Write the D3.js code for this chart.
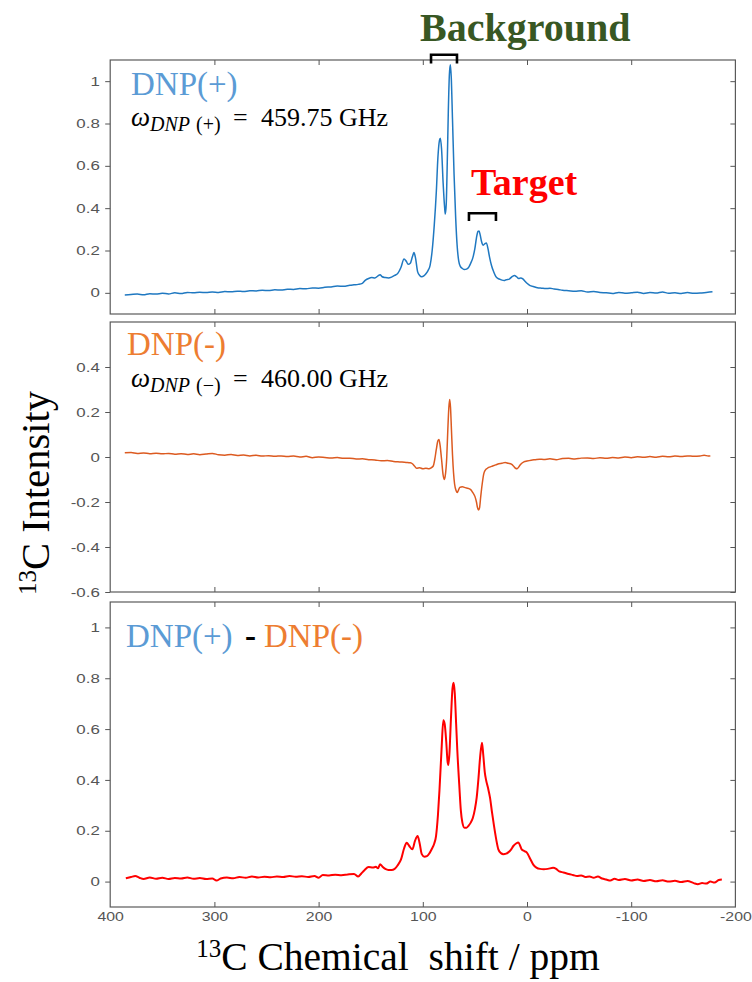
<!DOCTYPE html>
<html>
<head>
<meta charset="utf-8">
<script src="https://cdnjs.cloudflare.com/ajax/libs/d3/7.8.5/d3.min.js"></script>
<style>
  body { margin: 0; background: #fff; }
  .tick text { font-family: "Liberation Sans", Arial, sans-serif; font-size: 13px; fill: #555; }
</style>
</head>
<body>
<svg id="fig" width="752" height="982"></svg>
<script>
// x ticks (ppm) and y ticks per panel
const xTicks = [400, 300, 200, 100, 0, -100, -200];
const yTicksPlus = [0, 0.2, 0.4, 0.6, 0.8, 1];
const yTicksMinus = [-0.6, -0.4, -0.2, 0, 0.2, 0.4];
const yTicksDiff = [0, 0.2, 0.4, 0.6, 0.8, 1];

// DNP(+) spectrum, 459.75 GHz
const ppmPlus = [386,380,374,368,362,356,350,344,338,332,326,320,314,308,302,296,290,284,278,272,266,260,254,248,242,236,230,224,218,212,206,200,194,188,182,176,170,166,162,158,155,152,149,146,143,141,139,136,133,130,127,124,121,118,116,114,112,110,108.5,107,105,103,101,99,97,95,93,91,89,87,85.5,84,83.2,82,80.5,79,78.4,77.5,76.5,75.5,74.5,73.6,72.7,71.5,70,68.5,67,65.5,64,62,60,58,56,54,52,50,48.5,47,46,45,43.5,42,40.5,39,37.5,36,34,32,30,28,26,24,22,20,17,14,12,10,8,6,4,2,0,-3,-6,-10,-14,-18,-22,-26,-30,-34,-40,-46,-52,-58,-64,-70,-76,-82,-88,-94,-100,-106,-112,-118,-124,-130,-136,-142,-148,-154,-160,-166,-172,-178];
const dnpPlus = [-0.010,-0.008,-0.006,-0.009,-0.004,-0.006,-0.002,-0.005,0.000,-0.003,0.002,0.000,0.003,0.001,0.004,0.002,0.006,0.005,0.008,0.006,0.010,0.009,0.012,0.011,0.014,0.013,0.017,0.016,0.020,0.019,0.023,0.022,0.026,0.028,0.032,0.031,0.036,0.038,0.040,0.045,0.060,0.068,0.072,0.070,0.080,0.086,0.076,0.072,0.070,0.074,0.082,0.092,0.120,0.160,0.150,0.135,0.140,0.170,0.190,0.165,0.100,0.082,0.076,0.080,0.090,0.105,0.130,0.200,0.320,0.480,0.640,0.720,0.730,0.680,0.520,0.400,0.372,0.420,0.620,0.860,1.030,1.078,1.020,0.820,0.560,0.360,0.220,0.150,0.125,0.115,0.110,0.112,0.120,0.140,0.165,0.210,0.260,0.290,0.292,0.275,0.240,0.225,0.232,0.236,0.210,0.170,0.128,0.100,0.078,0.068,0.064,0.060,0.058,0.062,0.065,0.078,0.082,0.076,0.068,0.070,0.066,0.055,0.045,0.034,0.030,0.024,0.022,0.020,0.022,0.018,0.016,0.012,0.010,0.008,0.010,0.004,0.006,0.002,0.000,-0.003,0.002,-0.002,0.000,0.003,-0.003,0.001,-0.001,0.004,-0.002,0.000,-0.003,0.001,-0.002,-0.001,0.002,0.005];

// DNP(-) spectrum, 460.00 GHz
const ppmMinus = [386,380,374,368,362,356,350,344,338,332,326,320,314,308,302,296,290,284,278,272,266,260,254,248,242,236,230,224,218,212,206,200,194,188,182,176,170,164,158,152,146,140,134,128,122,116,112,110,108,106,103,100,97,94,92,90,88.5,87,85.5,84.5,83.5,82,80.5,79.5,78.5,77,76,75,74.2,73.4,72.5,71.5,70.5,69.5,68,67,66,64.5,62,60,58,56,54,52,50,48.5,47.5,46.5,45.5,44.5,43,41.5,40,38,36,33,30,27,24,21,18,15,13,11,9.5,8,6,3,0,-4,-8,-12,-16,-22,-28,-34,-40,-46,-52,-58,-64,-70,-76,-82,-88,-94,-100,-106,-112,-118,-124,-130,-136,-142,-148,-154,-160,-166,-170,-174,-176];
const dnpMinus = [0.019,0.020,0.016,0.018,0.015,0.017,0.014,0.016,0.012,0.015,0.011,0.014,0.010,0.013,0.016,0.010,0.008,0.011,0.007,0.009,0.005,0.008,0.004,0.006,0.003,0.005,0.002,0.004,0.000,0.003,-0.003,0.000,-0.002,-0.004,-0.002,-0.006,-0.005,-0.009,-0.008,-0.012,-0.013,-0.017,-0.016,-0.020,-0.022,-0.024,-0.026,-0.030,-0.040,-0.050,-0.048,-0.052,-0.050,-0.052,-0.048,-0.040,-0.010,0.035,0.072,0.078,0.055,-0.010,-0.080,-0.100,-0.085,0.000,0.120,0.220,0.256,0.220,0.120,0.010,-0.070,-0.120,-0.150,-0.158,-0.150,-0.135,-0.132,-0.135,-0.138,-0.140,-0.145,-0.158,-0.175,-0.200,-0.225,-0.236,-0.225,-0.180,-0.120,-0.075,-0.058,-0.050,-0.045,-0.040,-0.035,-0.030,-0.028,-0.024,-0.028,-0.032,-0.040,-0.050,-0.052,-0.045,-0.032,-0.022,-0.018,-0.014,-0.012,-0.010,-0.011,-0.008,-0.012,-0.007,-0.006,-0.009,-0.005,-0.004,-0.007,-0.003,-0.006,-0.002,-0.004,0.000,-0.003,0.001,-0.001,0.002,-0.001,0.003,0.001,0.004,0.002,0.005,0.003,0.004,0.008,0.004,0.005];

// DNP(+) - DNP(-) difference spectrum
const ppmDiff = [385,380,376,372,368,362,356,350,344,338,332,326,320,314,308,302,298,294,288,282,276,270,264,258,252,246,240,234,228,222,216,210,204,200,196,190,184,178,172,166,162,159,156,152,148,145,143,141,139,136,133,130,127,124,121,118,115.5,113,110,107.5,105,103,101,98.5,96,93.5,91.5,89,87.3,85.5,84,82,80.3,79,77.5,76.3,75.5,74.5,73,71.5,70.4,69.3,68,66.9,65,63.5,62,60,58,56,54,52,50,48.3,46.5,45,43.2,42,40.5,39.3,37.5,35.5,33.5,31.7,29.5,27.5,25,22.7,20,18,15.5,13.1,10.5,8.3,6.5,5.1,2.5,0.3,-3,-6,-9,-12.5,-16,-20,-25,-28,-31,-35,-40,-44,-48,-52,-56,-60,-64,-68,-72,-76,-80,-84,-88,-94,-100,-106,-112,-118,-124,-130,-136,-142,-148,-154,-160,-164,-168,-172,-176,-180,-184,-187];
const dnpDiff = [0.013,0.018,0.022,0.015,0.010,0.016,0.011,0.015,0.010,0.014,0.012,0.016,0.011,0.014,0.010,0.012,0.004,0.012,0.016,0.013,0.018,0.015,0.020,0.016,0.019,0.017,0.020,0.018,0.022,0.019,0.021,0.018,0.022,0.015,0.026,0.024,0.027,0.025,0.028,0.030,0.020,0.032,0.045,0.057,0.055,0.058,0.052,0.068,0.060,0.050,0.046,0.046,0.050,0.065,0.086,0.130,0.153,0.140,0.127,0.160,0.179,0.150,0.108,0.098,0.100,0.112,0.127,0.150,0.179,0.260,0.360,0.520,0.635,0.620,0.550,0.475,0.459,0.500,0.640,0.760,0.782,0.740,0.620,0.518,0.380,0.280,0.232,0.212,0.212,0.220,0.232,0.250,0.285,0.330,0.410,0.490,0.546,0.500,0.430,0.400,0.370,0.330,0.270,0.220,0.165,0.127,0.112,0.108,0.110,0.115,0.125,0.140,0.150,0.154,0.140,0.127,0.120,0.115,0.090,0.067,0.055,0.050,0.049,0.050,0.054,0.050,0.040,0.036,0.030,0.026,0.022,0.024,0.018,0.020,0.015,0.020,0.012,0.008,0.004,0.011,0.006,0.010,0.004,0.008,0.002,0.006,0.001,0.005,0.000,0.003,-0.002,0.002,-0.006,-0.010,-0.006,-0.008,0.000,-0.004,0.006,0.008];

// annotation brackets: [ppm from, ppm to, top value, leg value]
const bracketBackground = [92.1, 67.2, 1.125, 1.084];
const bracketTarget = [55.7, 29.8, 0.376, 0.339];

const svg = d3.select("#fig");
const W = 752;
const x = d3.scaleLinear().domain([400, -200]).range([110.2, 735.4]);
const tickFmt = d => String(+d.toFixed(1));

const panels = [
  {top: 60, bottom: 314, dom: [-0.1, 1.1], ticks: yTicksPlus, ppm: ppmPlus, val: dnpPlus, color: "#1f78c1", lw: 1.5, xLab: 0},
  {top: 322, bottom: 592, dom: [-0.6, 0.6], ticks: yTicksMinus, ppm: ppmMinus, val: dnpMinus, color: "#dc5a20", lw: 1.5, xLab: 15.6},
  {top: 602, bottom: 907, dom: [-0.1, 1.1], ticks: yTicksDiff, ppm: ppmDiff, val: dnpDiff, color: "#ff0000", lw: 2, xLab: 14}
];

function stripAxis(g) {
  g.select(".domain").remove();
  g.selectAll(".tick line").attr("stroke", "#555").attr("stroke-width", 1);
}

panels.forEach((p, i) => {
  const y = d3.scaleLinear().domain(p.dom).range([p.bottom, p.top]);
  p.y = y;
  const g = svg.append("g");
  // white sheet so each panel hides what the previous one spilled below
  g.append("rect").attr("x", 60).attr("y", p.top - 3).attr("width", W - 60).attr("height", p.bottom - p.top + 3).attr("fill", "#fff");

  const clipId = "clip" + i;
  g.append("clipPath").attr("id", clipId).append("rect")
    .attr("x", x.range()[0]).attr("y", p.top).attr("width", x.range()[1] - x.range()[0]).attr("height", p.bottom - p.top);

  const line = d3.line().x(d => x(d[0])).y(d => y(d[1])).curve(d3.curveMonotoneX);
  g.append("path").datum(d3.zip(p.ppm, p.val))
    .attr("clip-path", `url(#${clipId})`)
    .attr("fill", "none").attr("stroke", p.color).attr("stroke-width", p.lw)
    .attr("stroke-linejoin", "round").attr("d", line);

  // left axis (labels, ticks outward)
  const ax = g.append("g").attr("transform", `translate(${x.range()[0]},0)`)
    .call(d3.axisLeft(y).tickValues(p.ticks).tickSize(5).tickPadding(0).tickFormat(tickFmt));
  stripAxis(ax);
  ax.selectAll(".tick text").attr("x", -8).attr("transform", "scale(1.3,1)");
  // right side inward ticks
  stripAxis(g.append("g").attr("transform", `translate(${x.range()[1]},0)`)
    .call(d3.axisLeft(y).tickValues(p.ticks).tickSize(5).tickFormat("")).call(s => s.selectAll(".tick line").attr("x2", -5)));
  // top and bottom inward ticks
  stripAxis(g.append("g").attr("transform", `translate(0,${p.top})`)
    .call(d3.axisBottom(x).tickValues(xTicks.slice(1, -1)).tickSize(5).tickFormat("")));
  stripAxis(g.append("g").attr("transform", `translate(0,${p.bottom})`)
    .call(d3.axisTop(x).tickValues(xTicks.slice(1, -1)).tickSize(5).tickFormat("")));
  if (p.xLab) {
    const xa = g.append("g").attr("transform", `translate(0,${p.bottom})`)
      .call(d3.axisBottom(x).tickValues(xTicks).tickSize(0).tickPadding(0).tickFormat(tickFmt));
    stripAxis(xa);
    xa.selectAll(".tick text").attr("y", p.xLab).attr("dy", 0).attr("transform", "scale(1.22,1)");
  }

  g.append("rect").attr("x", x.range()[0]).attr("y", p.top)
    .attr("width", x.range()[1] - x.range()[0]).attr("height", p.bottom - p.top)
    .attr("fill", "none").attr("stroke", "#5a5a5a").attr("stroke-width", 1.2);
});

const serif = "'Liberation Serif', 'Times New Roman', serif";

// panel captions
const [pTop, pMid, pBot] = panels;
svg.append("text").attr("x", 131).attr("y", 95).attr("font-family", serif).attr("font-size", 33)
  .attr("fill", "#5b9bd5").text("DNP(+)");
svg.append("text").attr("x", 127).attr("y", 355).attr("font-family", serif).attr("font-size", 33)
  .attr("fill", "#ed7d31").text("DNP(-)");
const diffLab = svg.append("text").attr("x", 126).attr("y", 647).attr("font-family", serif).attr("font-size", 33);
diffLab.append("tspan").attr("fill", "#5b9bd5").text("DNP(+)");
diffLab.append("tspan").attr("x", 245).attr("fill", "#000").attr("font-weight", "bold").text("-");
diffLab.append("tspan").attr("x", 264).attr("fill", "#ed7d31").text("DNP(-)");

function omega(yBase, sub, freq) {
  const t = svg.append("text").attr("y", yBase).attr("font-family", serif).attr("fill", "#000");
  t.append("tspan").attr("x", 131).attr("font-size", 27).attr("font-style", "italic").text("ω");
  t.append("tspan").attr("x", 150).attr("dy", 5).attr("font-size", 20).attr("font-style", "italic").text("DNP");
  t.append("tspan").attr("x", 196).attr("font-size", 20).text(sub);
  t.append("tspan").attr("x", 233).attr("dy", -5).attr("font-size", 26).text("=");
  t.append("tspan").attr("x", 261).attr("font-size", 26).text(freq);
}
omega(126, "(+)", "459.75 GHz");
omega(387, "(\u2212)", "460.00 GHz");

// Background / Target annotations
svg.append("text").attr("x", 420).attr("y", 41).attr("font-family", serif).attr("font-size", 40)
  .attr("font-weight", "bold").attr("fill", "#385723").text("Background");
svg.append("text").attr("x", 471).attr("y", 195).attr("font-family", serif).attr("font-size", 38)
  .attr("font-weight", "bold").attr("fill", "#ff0000").text("Target");

function bracket(b, y) {
  const [a, c, top, leg] = b;
  svg.append("path").attr("fill", "none").attr("stroke", "#000").attr("stroke-width", 2.6)
    .attr("stroke-linejoin", "miter")
    .attr("d", `M${x(a)},${y(leg)}V${y(top)}H${x(c)}V${y(leg)}`);
}
bracket(bracketBackground, pTop.y);
bracket(bracketTarget, pTop.y);

// axis titles
const yt = svg.append("text").attr("transform", "translate(49,493) rotate(-90)")
  .attr("text-anchor", "middle").attr("font-family", serif).attr("font-size", 40.5).attr("fill", "#000");
yt.append("tspan").attr("font-size", 25).attr("dy", -13).text("13");
yt.append("tspan").attr("dy", 13).text("C Intensity");

const xt = svg.append("text").attr("x", 398).attr("y", 970)
  .attr("text-anchor", "middle").attr("font-family", serif).attr("font-size", 39.5).attr("fill", "#000");
xt.append("tspan").attr("font-size", 25).attr("dy", -13).text("13");
xt.append("tspan").attr("dy", 13).text("C Chemical\u00a0 shift / ppm");
</script>
</body>
</html>
